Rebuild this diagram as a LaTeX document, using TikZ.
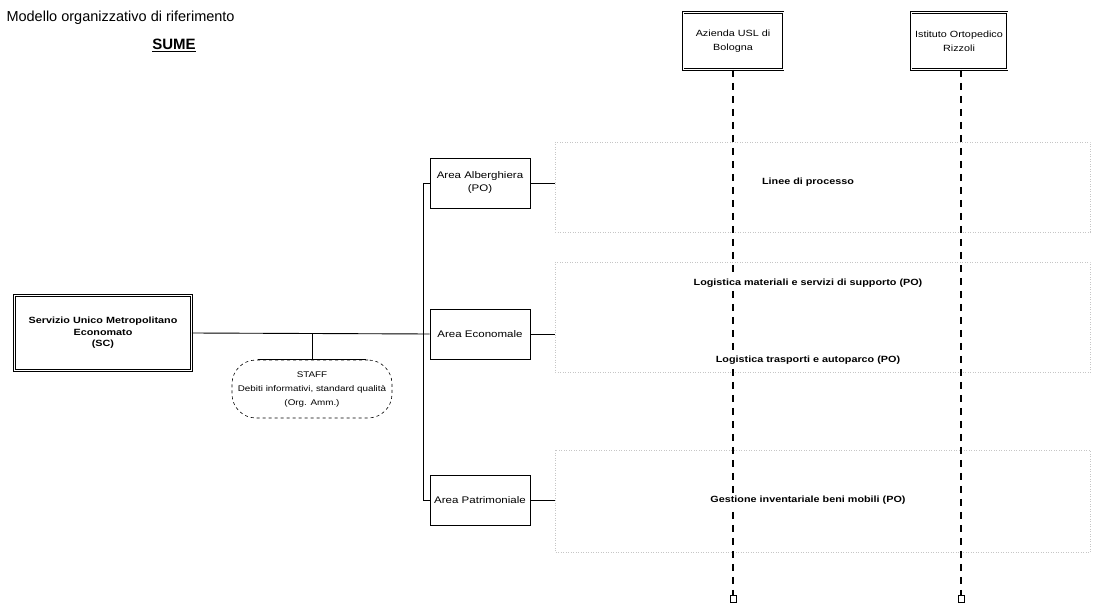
\documentclass[tikz,border=0pt]{standalone}
\usepackage{fontspec}
\setmainfont{Liberation Sans}
\newfontfamily\widefont{Liberation Sans}[FakeStretch=1.2]
\begin{document}
\begin{tikzpicture}[x=1pt,y=-1pt,
		unitbox/.style={draw, double, double distance=0.9pt, line width=0.7pt, align=center, inner sep=1pt},
		areabox/.style={draw, line width=0.9pt, align=center, minimum width=100pt, minimum height=50pt, inner sep=1pt, font=\widefont\fontsize{9.6}{13}\selectfont},
		lifeline/.style={dashed, line width=1.2pt, dash pattern=on 7pt off 6pt},
		lanelabel/.style={fill=white, inner sep=3pt, font=\widefont\bfseries\fontsize{9}{10}\selectfont},
		lane/.style={gray!45, dotted, line width=0.5pt},
		lineend/.style={draw, line width=0.8pt, minimum width=6pt, minimum height=7pt, inner sep=0pt, fill=white}]
		\useasboundingbox (0,0) rectangle (1093,604);
		% title
		\node[anchor=west, font=\fontsize{14.5}{17}\selectfont] (title) at (3,18) {Modello organizzativo di riferimento};
		\node[font=\bfseries\fontsize{15}{17}\selectfont] (sume) at (174,45) {\underline{SUME}};
		% swimlanes
		\draw[lane] (555,142) rectangle (1090,232);
		\draw[lane] (555,262) rectangle (1090,372);
		\draw[lane] (555,450) rectangle (1090,552);
		% units
		\node[unitbox, minimum width=177pt, minimum height=75pt, font=\widefont\bfseries\fontsize{9}{11.5}\selectfont] (sume main) at (103,333) {Servizio Unico Metropolitano\\Economato\\(SC)};
		\node[unitbox, minimum width=100pt, minimum height=57pt, font=\widefont\fontsize{9}{14}\selectfont] (ausl) at (733,41) {Azienda USL di\\Bologna};
		\node[unitbox, minimum width=96pt, minimum height=57pt, font=\widefont\fontsize{9}{14}\selectfont] (ior) at (959,41) {Istituto Ortopedico\\Rizzoli};
		\node[draw, dashed, line width=0.6pt, rounded corners=24pt, minimum width=160pt, minimum height=58pt, inner sep=0pt, align=center, font=\widefont\fontsize{8.2}{14}\selectfont] (staff) at (312,389) {STAFF\\Debiti informativi, standard qualità\\(Org. Amm.)};
		\node[areabox] (albergo) at (480,183) {Area Alberghiera\\(PO)};
		\node[areabox] (economale) at (480,334) {Area Economale};
		\node[areabox] (patrimonio) at (480,500) {Area Patrimoniale};
		% connectors
		\coordinate (bustop) at (423,183);
		\coordinate (busbot) at (423,500);
		\coordinate (stem) at (312,333);
		\draw[line width=0.9pt] (sume main.east) to (economale.west);
		\draw[line width=0.9pt] (albergo.west) to (bustop) to (busbot) to (patrimonio.west);
		\draw[line width=0.9pt] (stem) to (staff.north);
		\draw[line width=1.2pt] ([xshift=26pt]staff.north west) to ([xshift=-26pt]staff.north east);
		\coordinate (albergo lane) at (555,183);
		\coordinate (economale lane) at (555,334);
		\coordinate (patrimonio lane) at (555,500);
		\draw[line width=0.6pt] (albergo.east) to (albergo lane);
		\draw[line width=0.8pt] (economale.east) to (economale lane);
		\draw[line width=0.8pt] (patrimonio.east) to (patrimonio lane);
		% lifelines
		\node[lineend] (ausl end) at (733,599) {};
		\node[lineend] (ior end) at (961,599) {};
		\draw[lifeline] (ausl.south) to (ausl end.north);
		\draw[lifeline] (ior.south -| ior end) to (ior end.north);
		% process lines
		\node[lanelabel] (linee) at (808,182) {Linee di processo};
		\node[lanelabel] (logmat) at (808,283) {Logistica materiali e servizi di supporto (PO)};
		\node[lanelabel] (logtra) at (808,360) {Logistica trasporti e autoparco (PO)};
		\node[lanelabel] (inventario) at (808,500) {Gestione inventariale beni mobili (PO)};
\end{tikzpicture}
\end{document}
